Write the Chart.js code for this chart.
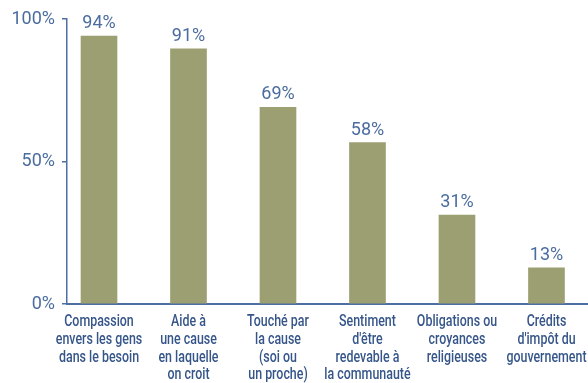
<!DOCTYPE html>
<html>
<head>
<meta charset="utf-8">
<script src="https://cdn.jsdelivr.net/npm/chart.js@4/dist/chart.umd.min.js"></script>
<style>
  html, body { margin: 0; padding: 0; background: #ffffff; }
  #wrap { width: 588px; height: 383px; }
</style>
</head>
<body>
<div id="wrap"><canvas id="c" width="588" height="383"></canvas></div>
<script>
const categories = [
  ["Compassion", "envers les gens", "dans le besoin"],
  ["Aide à", "une cause", "en laquelle", "on croit"],
  ["Touché par", "la cause", "(soi ou", "un proche)"],
  ["Sentiment", "d'être", "redevable à", "la communauté"],
  ["Obligations ou", "croyances", "religieuses"],
  ["Crédits", "d'impôt du", "gouvernement"]
];
const barValues = [94, 89.5, 69, 56.6, 31.2, 12.7];
const valueLabels = ["94%", "91%", "69%", "58%", "31%", "13%"];
const yTicks = [0, 50, 100];

const barColor = "#9c9f71";
const axisColor = "#4f6fa2";
const textColor = "#4b6c9f";
const catColor = "#36568a";

const valueLabelPlugin = {
  id: "valueLabels",
  afterDatasetsDraw(chart) {
    const ctx = chart.ctx;
    const meta = chart.getDatasetMeta(0);
    ctx.save();
    ctx.font = "18px Roboto";
    ctx.fillStyle = textColor;
    ctx.textAlign = "center";
    ctx.textBaseline = "alphabetic";
    meta.data.forEach((bar, i) => {
      ctx.fillText(valueLabels[i], bar.x, bar.y - 8);
    });
    ctx.restore();
  }
};

// condensed category labels (no condensed font installed, so squeeze horizontally)
const categoryLabelPlugin = {
  id: "categoryLabels",
  afterDraw(chart) {
    const ctx = chart.ctx;
    const xs = chart.scales.x;
    const top = chart.chartArea.bottom;
    const squeeze = 0.73;
    ctx.save();
    ctx.font = "500 17px Roboto";
    ctx.fillStyle = catColor;
    ctx.textAlign = "center";
    ctx.textBaseline = "alphabetic";
    categories.forEach((lines, i) => {
      const cx = xs.getPixelForValue(i);
      lines.forEach((line, j) => {
        ctx.save();
        ctx.translate(cx, top + 22 + j * 17.8);
        ctx.scale(squeeze, 1);
        ctx.fillText(line, 0, 0);
        ctx.restore();
      });
    });
    ctx.restore();
  }
};

new Chart(document.getElementById("c"), {
  type: "bar",
  data: {
    datasets: [{
      data: barValues.map((v, i) => ({ x: i, y: v })),
      backgroundColor: barColor,
      borderWidth: 0,
      barThickness: 36
    }]
  },
  options: {
    responsive: false,
    animation: false,
    devicePixelRatio: 1,
    layout: { padding: { top: 19, right: 0, bottom: 0, left: 0 } },
    plugins: { legend: { display: false }, tooltip: { enabled: false } },
    scales: {
      x: {
        type: "linear",
        offset: false,
        min: -0.3575,
        max: 5.464,
        afterFit(scale) { scale.height = 79; scale.paddingLeft = 0; scale.paddingRight = 0; },
        grid: { display: true, offset: false, drawOnChartArea: false, drawTicks: false },
        border: { display: true, color: axisColor, width: 2 },
        ticks: {
          stepSize: 1,
          includeBounds: false,
          autoSkip: false,
          maxRotation: 0,
          minRotation: 0,
          padding: 7,
          color: "rgba(0,0,0,0)",
          font: { family: "Roboto", size: 15 },
          callback: () => ""
        }
      },
      y: {
        min: 0,
        max: 100,
        afterFit(scale) { scale.width = 67; },
        afterBuildTicks(scale) { scale.ticks = yTicks.map(v => ({ value: v })); },
        grid: { display: true, drawOnChartArea: false, drawTicks: true, tickLength: 5, color: axisColor, lineWidth: 1.5 },
        border: { display: true, color: axisColor, width: 1.5 },
        ticks: {
          padding: 7,
          color: textColor,
          font: { family: "Roboto", size: 18 },
          callback: (v) => v + "%"
        }
      }
    }
  },
  plugins: [valueLabelPlugin, categoryLabelPlugin]
});
</script>
</body>
</html>
